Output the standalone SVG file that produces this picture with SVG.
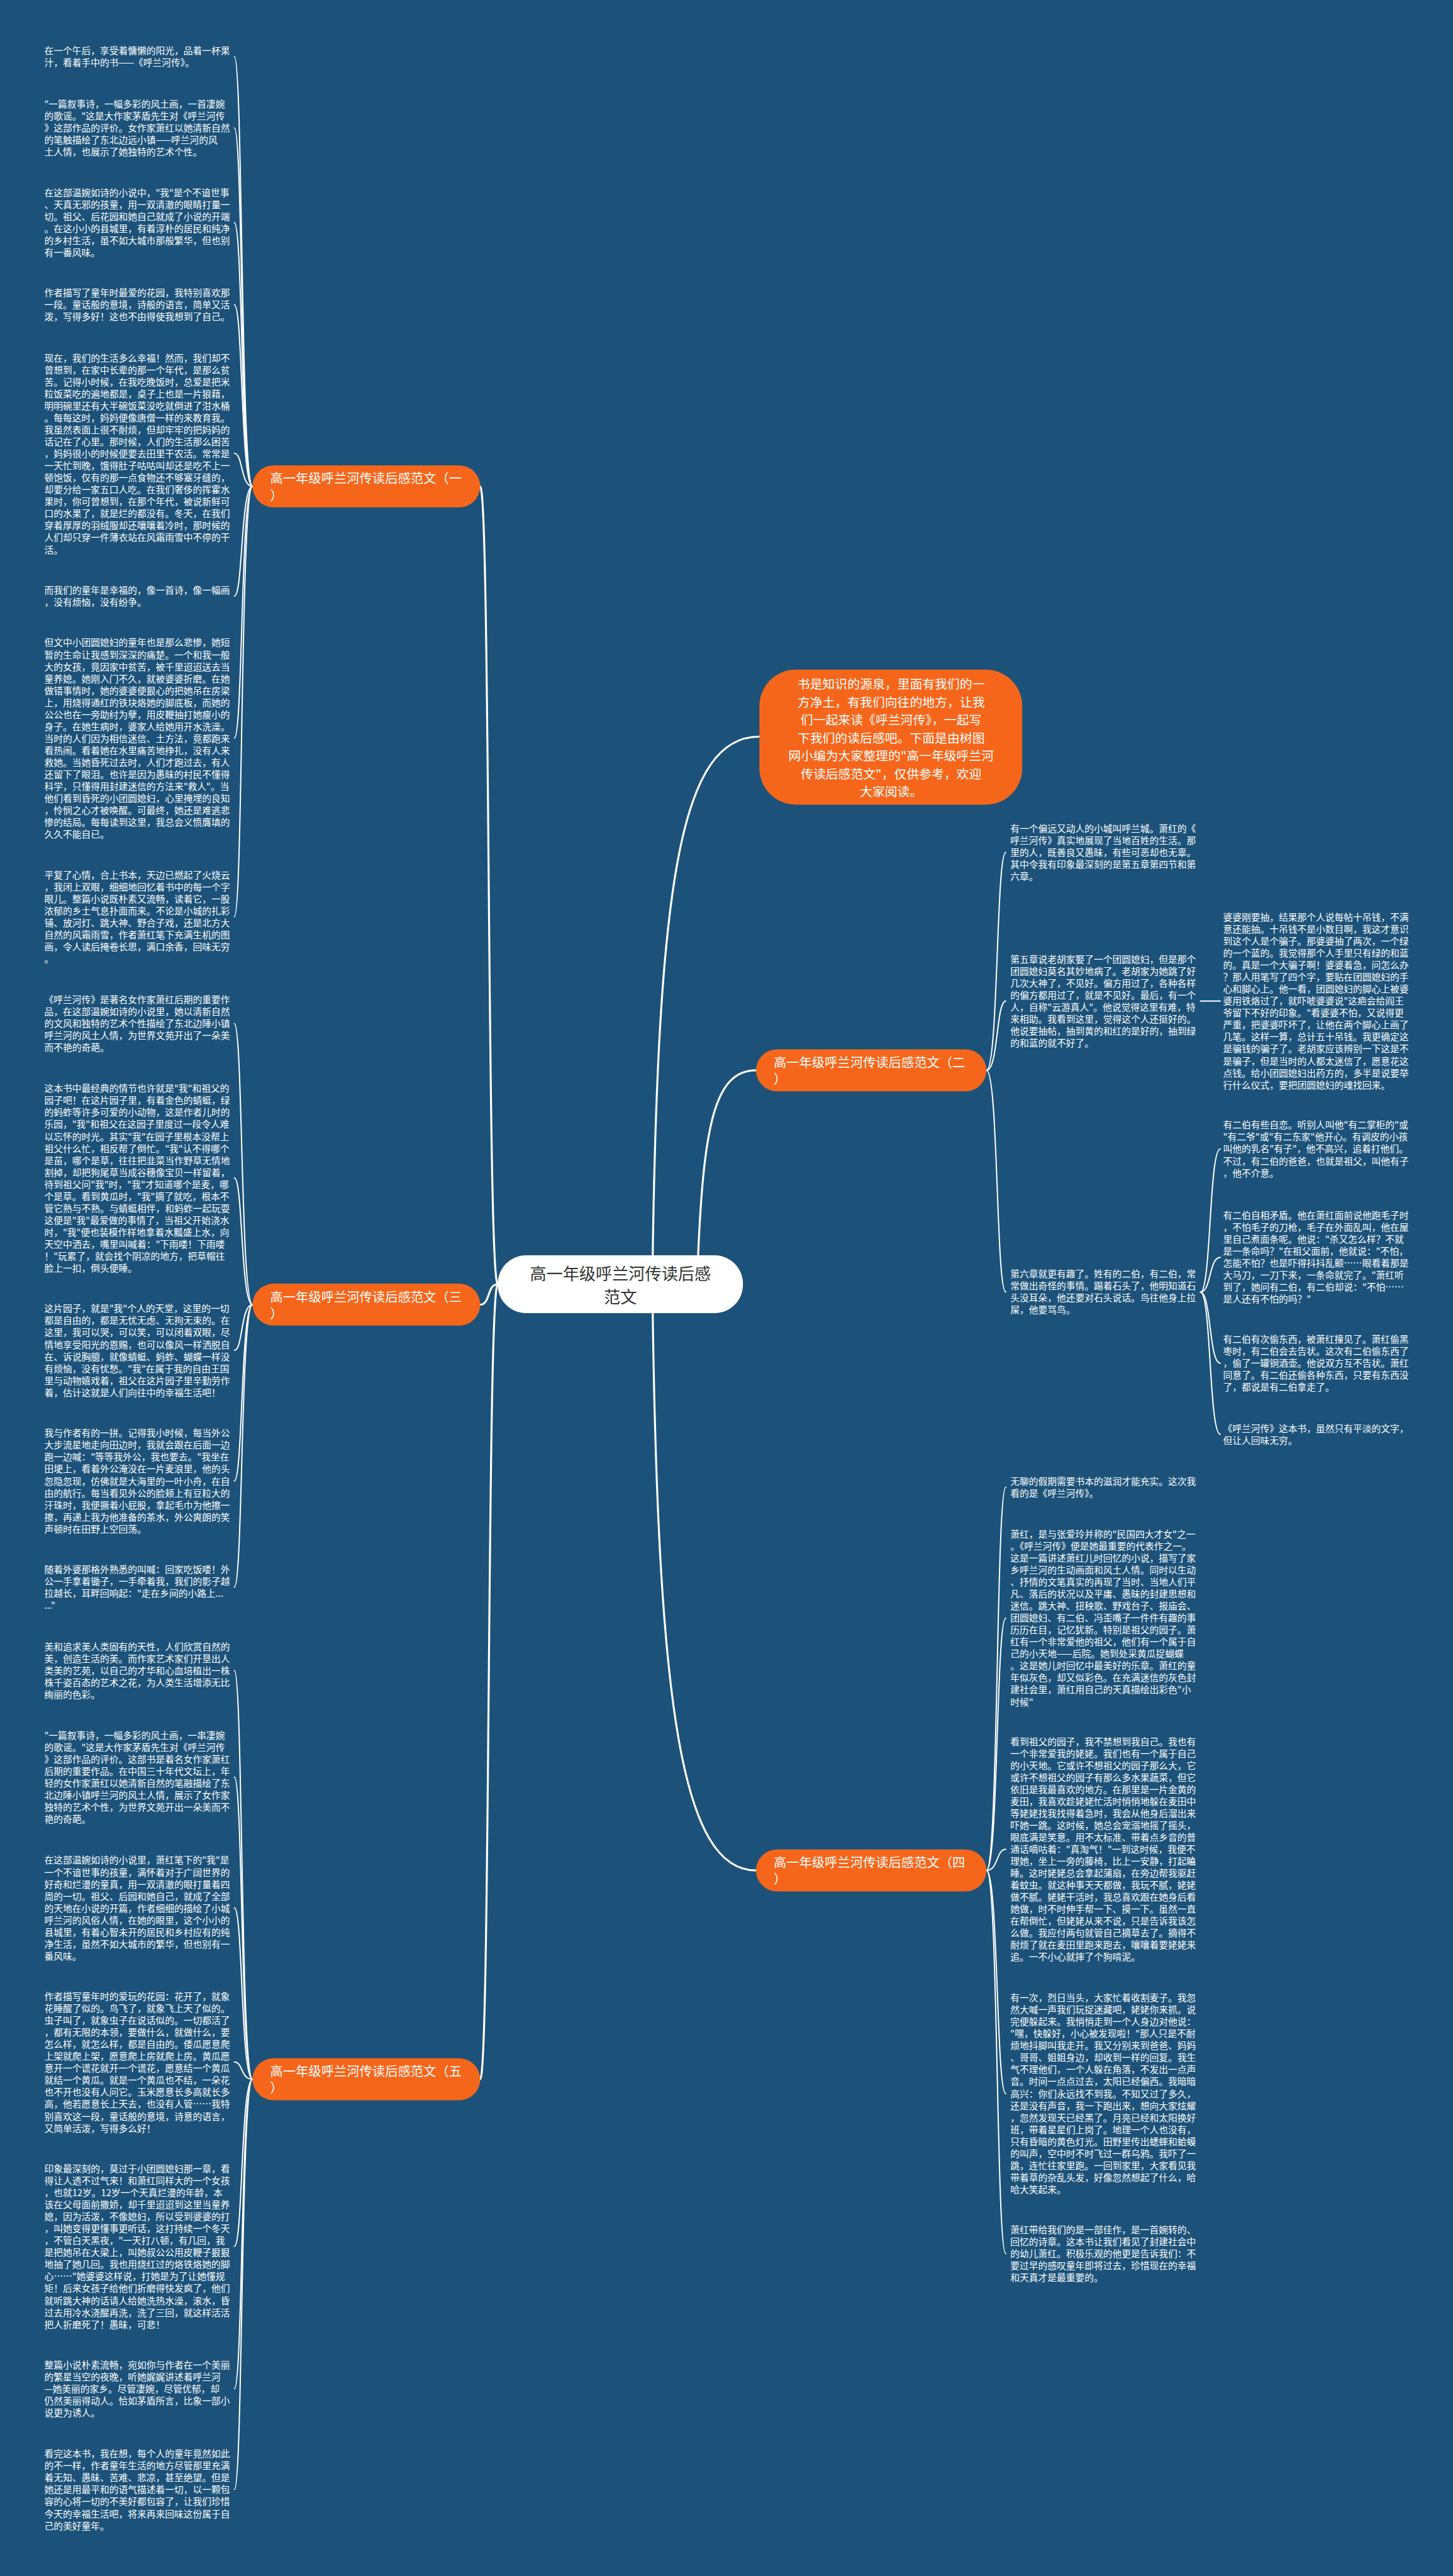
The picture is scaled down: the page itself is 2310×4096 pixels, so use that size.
<svg xmlns="http://www.w3.org/2000/svg" width="2310" height="4096" viewBox="0 0 2310 4096">
<style>
.t{font-family:"Noto Sans CJK SC","Noto Sans",sans-serif;font-size:16.35px;fill:#ffffff;}
.lab{font-family:"Noto Sans CJK SC","Noto Sans",sans-serif;font-size:22.5px;fill:#ffffff;}
.ctr{font-family:"Noto Sans CJK SC","Noto Sans",sans-serif;font-size:29px;fill:#333333;text-anchor:middle;}
.intro{font-family:"Noto Sans CJK SC","Noto Sans",sans-serif;font-size:22px;fill:#ffffff;text-anchor:middle;}
.sec{fill:#f5661b;}
.c{fill:none;stroke:#ffffff;stroke-width:2.2;stroke-linecap:round;}
.m{fill:none;stroke:#ffffff;stroke-width:3.5;stroke-linecap:round;}
</style>
<rect x="0" y="0" width="2310" height="4096" fill="#1c5279"/>
<g transform="scale(0.90234)">
<g id="connectors">
<path class="m" d="M877 2263 C858 2263 864 857 846 857"/>
<path class="m" d="M877 2263 C858 2263 864 2299 846 2299"/>
<path class="m" d="M877 2263 C858 2263 864 3664 846 3664"/>
<path class="m" d="M1150 2212 C1160 1550 1200 1298 1338 1298"/>
<path class="m" d="M1230 2212 C1240 1980 1260 1886 1332 1886"/>
<path class="m" d="M1150 2314 C1160 3000 1200 3296 1332 3296"/>
<path class="c" d="M445 857 C424 857 428 99.6 413 99.6"/>
<path class="c" d="M445 857 C424 857 428 225.6 413 225.6"/>
<path class="c" d="M445 857 C424 857 428 392.4 413 392.4"/>
<path class="c" d="M445 857 C424 857 428 537.2 413 537.2"/>
<path class="c" d="M445 857 C424 857 428 798.9 413 798.9"/>
<path class="c" d="M445 857 C424 857 428 1050.3 413 1050.3"/>
<path class="c" d="M445 857 C424 857 428 1300.5 413 1300.5"/>
<path class="c" d="M445 857 C424 857 428 1615.2 413 1615.2"/>
<path class="c" d="M445 2299 C424 2299 428 1803.8 413 1803.8"/>
<path class="c" d="M445 2299 C424 2299 428 2075.6 413 2075.6"/>
<path class="c" d="M445 2299 C424 2299 428 2379.5 413 2379.5"/>
<path class="c" d="M445 2299 C424 2299 428 2609.4 413 2609.4"/>
<path class="c" d="M445 2299 C424 2299 428 2796.8 413 2796.8"/>
<path class="c" d="M445 3664 C424 3664 428 2943.8 413 2943.8"/>
<path class="c" d="M445 3664 C424 3664 428 3131.6 413 3131.6"/>
<path class="c" d="M445 3664 C424 3664 428 3362 413 3362"/>
<path class="c" d="M445 3664 C424 3664 428 3633.6 413 3633.6"/>
<path class="c" d="M445 3664 C424 3664 428 3958.2 413 3958.2"/>
<path class="c" d="M445 3664 C424 3664 428 4209.2 413 4209.2"/>
<path class="c" d="M445 3664 C424 3664 428 4387 413 4387"/>
<path class="c" d="M1738 1886 C1759 1886 1755 1502.2 1772 1502.2"/>
<path class="c" d="M1738 1886 C1759 1886 1755 1763.9 1772 1763.9"/>
<path class="c" d="M1738 1886 C1759 1886 1755 2276.7 1772 2276.7"/>
<path class="c" d="M2115 1764 L2150 1764"/>
<path class="c" d="M2115 2277 C2134 2277 2130 2024.6 2150 2024.6"/>
<path class="c" d="M2115 2277 C2134 2277 2130 2215.6 2150 2215.6"/>
<path class="c" d="M2115 2277 C2134 2277 2130 2402.2 2150 2402.2"/>
<path class="c" d="M2115 2277 C2134 2277 2130 2527.3 2150 2527.3"/>
<path class="c" d="M1738 3296 C1759 3296 1755 2620.9 1772 2620.9"/>
<path class="c" d="M1738 3296 C1759 3296 1755 2851.1 1772 2851.1"/>
<path class="c" d="M1738 3296 C1759 3296 1755 3258.7 1772 3258.7"/>
<path class="c" d="M1738 3296 C1759 3296 1755 3689.2 1772 3689.2"/>
<path class="c" d="M1738 3296 C1759 3296 1755 3971.2 1772 3971.2"/>
</g>
<g id="center">
<rect x="877" y="2212" width="432" height="102" rx="50" fill="#ffffff"/>
<text class="ctr" x="1093" y="2255">高一年级呼兰河传读后感</text>
<text class="ctr" x="1093" y="2296">范文</text>
</g>
<g id="intro">
<rect x="1338" y="1180" width="463" height="238" rx="64" class="sec"/>
<text class="intro" x="1570" y="1214"><tspan x="1570">书是知识的源泉，里面有我们的一</tspan><tspan x="1570" dy="31.5">方净土，有我们向往的地方，让我</tspan><tspan x="1570" dy="31.5">们一起来读《呼兰河传》，一起写</tspan><tspan x="1570" dy="31.5">下我们的读后感吧。下面是由树图</tspan><tspan x="1570" dy="31.5">网小编为大家整理的"高一年级呼兰河</tspan><tspan x="1570" dy="31.5">传读后感范文"，仅供参考，欢迎</tspan><tspan x="1570" dy="31.5">大家阅读。</tspan></text>
</g>
<g id="sec1">
<rect x="445" y="820" width="401" height="74" rx="37" class="sec"/>
<text class="lab" x="476" y="851.5"><tspan x="476">高一年级呼兰河传读后感范文（一</tspan><tspan x="476" dy="29">）</tspan></text>
</g>
<g id="sec3">
<rect x="445" y="2262" width="401" height="74" rx="37" class="sec"/>
<text class="lab" x="476" y="2293.5"><tspan x="476">高一年级呼兰河传读后感范文（三</tspan><tspan x="476" dy="29">）</tspan></text>
</g>
<g id="sec5">
<rect x="445" y="3627" width="401" height="74" rx="37" class="sec"/>
<text class="lab" x="476" y="3658.5"><tspan x="476">高一年级呼兰河传读后感范文（五</tspan><tspan x="476" dy="29">）</tspan></text>
</g>
<g id="sec2">
<rect x="1332" y="1849" width="406" height="74" rx="37" class="sec"/>
<text class="lab" x="1363" y="1880.5"><tspan x="1363">高一年级呼兰河传读后感范文（二</tspan><tspan x="1363" dy="29">）</tspan></text>
</g>
<g id="sec4">
<rect x="1332" y="3259" width="406" height="74" rx="37" class="sec"/>
<text class="lab" x="1363" y="3290.5"><tspan x="1363">高一年级呼兰河传读后感范文（四</tspan><tspan x="1363" dy="29">）</tspan></text>
</g>
<g id="b1"><text class="t" x="78" y="95.3"><tspan x="78">在一个午后，享受着慵懒的阳光，品着一杯果</tspan><tspan x="78" dy="21.1">汁，看着手中的书——《呼兰河传》。</tspan></text></g>
<g id="b2"><text class="t" x="78" y="189.8"><tspan x="78">"一篇叙事诗，一幅多彩的风土画，一首凄婉</tspan><tspan x="78" dy="21.1">的歌谣。"这是大作家茅盾先生对《呼兰河传</tspan><tspan x="78" dy="21.1">》这部作品的评价。女作家萧红以她清新自然</tspan><tspan x="78" dy="21.1">的笔触描绘了东北边远小镇——呼兰河的风</tspan><tspan x="78" dy="21.1">土人情，也展示了她独特的艺术个性。</tspan></text></g>
<g id="b3"><text class="t" x="78" y="346.1"><tspan x="78">在这部温婉如诗的小说中，"我"是个不谙世事</tspan><tspan x="78" dy="21.1">、天真无邪的孩童，用一双清澈的眼睛打量一</tspan><tspan x="78" dy="21.1">切。祖父、后花园和她自己就成了小说的开端</tspan><tspan x="78" dy="21.1">。在这小小的县城里，有着淳朴的居民和纯净</tspan><tspan x="78" dy="21.1">的乡村生活，虽不如大城市那般繁华，但也别</tspan><tspan x="78" dy="21.1">有一番风味。</tspan></text></g>
<g id="b4"><text class="t" x="78" y="522.4"><tspan x="78">作者描写了童年时最爱的花园，我特别喜欢那</tspan><tspan x="78" dy="21.1">一段。童话般的意境，诗般的语言，简单又活</tspan><tspan x="78" dy="21.1">泼，写得多好！这也不由得使我想到了自己。</tspan></text></g>
<g id="b5"><text class="t" x="78" y="637.1"><tspan x="78">现在，我们的生活多么幸福！然而，我们却不</tspan><tspan x="78" dy="21.1">曾想到，在家中长辈的那一个年代，是那么贫</tspan><tspan x="78" dy="21.1">苦。记得小时候，在我吃晚饭时，总爱是把米</tspan><tspan x="78" dy="21.1">粒饭菜吃的遍地都是，桌子上也是一片狼藉，</tspan><tspan x="78" dy="21.1">明明碗里还有大半碗饭菜没吃就倒进了泔水桶</tspan><tspan x="78" dy="21.1">。每每这时，妈妈便像唐僧一样的来教育我。</tspan><tspan x="78" dy="21.1">我虽然表面上很不耐烦，但却牢牢的把妈妈的</tspan><tspan x="78" dy="21.1">话记在了心里。那时候，人们的生活那么困苦</tspan><tspan x="78" dy="21.1">，妈妈很小的时候便要去田里干农活。常常是</tspan><tspan x="78" dy="21.1">一天忙到晚，饿得肚子咕咕叫却还是吃不上一</tspan><tspan x="78" dy="21.1">顿饱饭，仅有的那一点食物还不够塞牙缝的，</tspan><tspan x="78" dy="21.1">却要分给一家五口人吃。在我们奢侈的挥霍水</tspan><tspan x="78" dy="21.1">果时，你可曾想到，在那个年代，被说新鲜可</tspan><tspan x="78" dy="21.1">口的水果了，就是烂的都没有。冬天，在我们</tspan><tspan x="78" dy="21.1">穿着厚厚的羽绒服却还嚷嚷着冷时，那时候的</tspan><tspan x="78" dy="21.1">人们却只穿一件薄衣站在风霜雨雪中不停的干</tspan><tspan x="78" dy="21.1">活。</tspan></text></g>
<g id="b6"><text class="t" x="78" y="1046"><tspan x="78">而我们的童年是幸福的，像一首诗，像一幅画</tspan><tspan x="78" dy="21.1">，没有烦恼，没有纷争。</tspan></text></g>
<g id="b7"><text class="t" x="78" y="1138.7"><tspan x="78">但文中小团圆媳妇的童年也是那么悲惨，她短</tspan><tspan x="78" dy="21.1">暂的生命让我感到深深的痛楚。一个和我一般</tspan><tspan x="78" dy="21.1">大的女孩，竟因家中贫苦，被千里迢迢送去当</tspan><tspan x="78" dy="21.1">童养媳。她刚入门不久，就被婆婆折磨。在她</tspan><tspan x="78" dy="21.1">做错事情时，她的婆婆便狠心的把她吊在房梁</tspan><tspan x="78" dy="21.1">上，用烧得通红的铁块烙她的脚底板，而她的</tspan><tspan x="78" dy="21.1">公公也在一旁助纣为孽，用皮鞭抽打她瘦小的</tspan><tspan x="78" dy="21.1">身子。在她生病时，婆家人给她用开水洗澡。</tspan><tspan x="78" dy="21.1">当时的人们因为相信迷信、土方法，竟都跑来</tspan><tspan x="78" dy="21.1">看热闹。看着她在水里痛苦地挣扎，没有人来</tspan><tspan x="78" dy="21.1">救她。当她昏死过去时，人们才跑过去，有人</tspan><tspan x="78" dy="21.1">还留下了眼泪。也许是因为愚昧的村民不懂得</tspan><tspan x="78" dy="21.1">科学，只懂得用封建迷信的方法来"救人"。当</tspan><tspan x="78" dy="21.1">他们看到昏死的小团圆媳妇，心里掩埋的良知</tspan><tspan x="78" dy="21.1">，怜悯之心才被唤醒。可最终，她还是难逃悲</tspan><tspan x="78" dy="21.1">惨的结局。每每读到这里，我总会义愤膺填的</tspan><tspan x="78" dy="21.1">久久不能自已。</tspan></text></g>
<g id="b8"><text class="t" x="78" y="1547.9"><tspan x="78">平复了心情，合上书本，天边已燃起了火烧云</tspan><tspan x="78" dy="21.1">，我闭上双眼，细细地回忆着书中的每一个字</tspan><tspan x="78" dy="21.1">眼儿。整篇小说既朴素又流畅，读着它，一股</tspan><tspan x="78" dy="21.1">浓郁的乡土气息扑面而来。不论是小城的扎彩</tspan><tspan x="78" dy="21.1">铺、放河灯、跳大神、野合子戏，还是北方大</tspan><tspan x="78" dy="21.1">自然的风霜雨雪，作者萧红笔下充满生机的图</tspan><tspan x="78" dy="21.1">画，令人读后掩卷长思，满口余香，回味无穷</tspan><tspan x="78" dy="21.1">。</tspan></text></g>
<g id="b9"><text class="t" x="78" y="1768"><tspan x="78">《呼兰河传》是著名女作家萧红后期的重要作</tspan><tspan x="78" dy="21.1">品，在这部温婉如诗的小说里，她以清新自然</tspan><tspan x="78" dy="21.1">的文风和独特的艺术个性描绘了东北边陲小镇</tspan><tspan x="78" dy="21.1">呼兰河的风土人情，为世界文苑开出了一朵美</tspan><tspan x="78" dy="21.1">而不艳的奇葩。</tspan></text></g>
<g id="b10"><text class="t" x="78" y="1924.3"><tspan x="78">这本书中最经典的情节也许就是"我"和祖父的</tspan><tspan x="78" dy="21.1">园子吧！在这片园子里，有着金色的蜻蜓，绿</tspan><tspan x="78" dy="21.1">的蚂蚱等许多可爱的小动物，这是作者儿时的</tspan><tspan x="78" dy="21.1">乐园，"我"和祖父在这园子里度过一段令人难</tspan><tspan x="78" dy="21.1">以忘怀的时光。其实"我"在园子里根本没帮上</tspan><tspan x="78" dy="21.1">祖父什么忙，相反帮了倒忙。"我"认不得哪个</tspan><tspan x="78" dy="21.1">是苗，哪个是草，往往把韭菜当作野草无情地</tspan><tspan x="78" dy="21.1">割掉，却把狗尾草当成谷穗像宝贝一样留着，</tspan><tspan x="78" dy="21.1">待到祖父问"我"时，"我"才知道哪个是麦，哪</tspan><tspan x="78" dy="21.1">个是草。看到黄瓜时，"我"摘了就吃，根本不</tspan><tspan x="78" dy="21.1">管它熟与不熟。与蜻蜓相伴，和蚂蚱一起玩耍</tspan><tspan x="78" dy="21.1">这便是"我"最爱做的事情了，当祖父开始浇水</tspan><tspan x="78" dy="21.1">时，"我"便也装模作样地拿着水瓢盛上水，向</tspan><tspan x="78" dy="21.1">天空中洒去，嘴里叫喊着："下雨喽！下雨喽</tspan><tspan x="78" dy="21.1">！"玩累了，就会找个阴凉的地方，把草帽往</tspan><tspan x="78" dy="21.1">脸上一扣，倒头便睡。</tspan></text></g>
<g id="b11"><text class="t" x="78" y="2312.2"><tspan x="78">这片园子，就是"我"个人的天堂，这里的一切</tspan><tspan x="78" dy="21.1">都是自由的，都是无忧无虑、无拘无束的。在</tspan><tspan x="78" dy="21.1">这里，我可以哭，可以笑，可以闭着双眼，尽</tspan><tspan x="78" dy="21.1">情地享受阳光的恩赐，也可以像风一样洒脱自</tspan><tspan x="78" dy="21.1">在、诉说胸臆，就像蜻蜓、蚂蚱、蝴蝶一样没</tspan><tspan x="78" dy="21.1">有烦恼，没有忧愁。"我"在属于我的自由王国</tspan><tspan x="78" dy="21.1">里与动物嬉戏着，祖父在这片园子里辛勤劳作</tspan><tspan x="78" dy="21.1">着，估计这就是人们向往中的幸福生活吧！</tspan></text></g>
<g id="b12"><text class="t" x="78" y="2531.6"><tspan x="78">我与作者有的一拼。记得我小时候，每当外公</tspan><tspan x="78" dy="21.1">大步流星地走向田边时，我就会跟在后面一边</tspan><tspan x="78" dy="21.1">跑一边喊："等等我外公，我也要去。"我坐在</tspan><tspan x="78" dy="21.1">田埂上，看着外公淹没在一片麦浪里，他的头</tspan><tspan x="78" dy="21.1">忽隐忽现，仿佛就是大海里的一叶小舟，在自</tspan><tspan x="78" dy="21.1">由的航行。每当看见外公的脸颊上有豆粒大的</tspan><tspan x="78" dy="21.1">汗珠时，我便撅着小屁股，拿起毛巾为他擦一</tspan><tspan x="78" dy="21.1">擦，再递上我为他准备的茶水，外公爽朗的笑</tspan><tspan x="78" dy="21.1">声顿时在田野上空回荡。</tspan></text></g>
<g id="b13"><text class="t" x="78" y="2771.5"><tspan x="78">随着外婆那格外熟悉的叫喊：回家吃饭喽！外</tspan><tspan x="78" dy="21.1">公一手拿着锄子，一手牵着我，我们的影子越</tspan><tspan x="78" dy="21.1">拉越长，耳畔回响起："走在乡间的小路上...</tspan><tspan x="78" dy="21.1">..."</tspan></text></g>
<g id="b14"><text class="t" x="78" y="2908"><tspan x="78">美和追求美人类固有的天性，人们欣赏自然的</tspan><tspan x="78" dy="21.1">美，创造生活的美。而作家艺术家们开垦出人</tspan><tspan x="78" dy="21.1">类美的艺苑，以自己的才华和心血培植出一株</tspan><tspan x="78" dy="21.1">株千姿百态的艺术之花，为人类生活增添无比</tspan><tspan x="78" dy="21.1">绚丽的色彩。</tspan></text></g>
<g id="b15"><text class="t" x="78" y="3064.3"><tspan x="78">"一篇叙事诗，一幅多彩的风土画，一串凄婉</tspan><tspan x="78" dy="21.1">的歌谣。"这是大作家茅盾先生对《呼兰河传</tspan><tspan x="78" dy="21.1">》这部作品的评价。这部书是着名女作家萧红</tspan><tspan x="78" dy="21.1">后期的重要作品。在中国三十年代文坛上，年</tspan><tspan x="78" dy="21.1">轻的女作家萧红以她清新自然的笔融描绘了东</tspan><tspan x="78" dy="21.1">北边陲小镇呼兰河的风土人情，展示了女作家</tspan><tspan x="78" dy="21.1">独特的艺术个性，为世界文苑开出一朵美而不</tspan><tspan x="78" dy="21.1">艳的奇葩。</tspan></text></g>
<g id="b16"><text class="t" x="78" y="3284.2"><tspan x="78">在这部温婉如诗的小说里，萧红笔下的"我"是</tspan><tspan x="78" dy="21.1">一个不谙世事的孩童，满怀着对于广阔世界的</tspan><tspan x="78" dy="21.1">好奇和烂漫的童真，用一双清澈的眼打量着四</tspan><tspan x="78" dy="21.1">周的一切。祖父、后园和她自己，就成了全部</tspan><tspan x="78" dy="21.1">的天地在小说的开篇，作者细细的描绘了小城</tspan><tspan x="78" dy="21.1">呼兰河的风俗人情，在她的眼里，这个小小的</tspan><tspan x="78" dy="21.1">县城里，有着心智未开的居民和乡村应有的纯</tspan><tspan x="78" dy="21.1">净生活，虽然不如大城市的繁华，但也别有一</tspan><tspan x="78" dy="21.1">番风味。</tspan></text></g>
<g id="b17"><text class="t" x="78" y="3524.3"><tspan x="78">作者描写童年时的爱玩的花园：花开了，就象</tspan><tspan x="78" dy="21.1">花睡醒了似的。鸟飞了，就象飞上天了似的。</tspan><tspan x="78" dy="21.1">虫子叫了，就象虫子在说话似的。一切都活了</tspan><tspan x="78" dy="21.1">，都有无限的本领，要做什么，就做什么，要</tspan><tspan x="78" dy="21.1">怎么样，就怎么样，都是自由的。倭瓜愿意爬</tspan><tspan x="78" dy="21.1">上架就爬上架，愿意爬上房就爬上房。黄瓜愿</tspan><tspan x="78" dy="21.1">意开一个谎花就开一个谎花，愿意结一个黄瓜</tspan><tspan x="78" dy="21.1">就结一个黄瓜。就是一个黄瓜也不结，一朵花</tspan><tspan x="78" dy="21.1">也不开也没有人问它。玉米愿意长多高就长多</tspan><tspan x="78" dy="21.1">高，他若愿意长上天去，也没有人管……我特</tspan><tspan x="78" dy="21.1">别喜欢这一段，童话般的意境，诗意的语言，</tspan><tspan x="78" dy="21.1">又简单活泼，写得多么好！</tspan></text></g>
<g id="b18"><text class="t" x="78" y="3827.9"><tspan x="78">印象最深刻的，莫过于小团圆媳妇那一章，看</tspan><tspan x="78" dy="21.1">得让人透不过气来！和萧红同样大的一个女孩</tspan><tspan x="78" dy="21.1">，也就12岁。12岁一个天真烂漫的年龄，本</tspan><tspan x="78" dy="21.1">该在父母面前撒娇，却千里迢迢到这里当童养</tspan><tspan x="78" dy="21.1">媳，因为活泼，不像媳妇，所以受到婆婆的打</tspan><tspan x="78" dy="21.1">，叫她变得更懂事更听话，这打持续一个冬天</tspan><tspan x="78" dy="21.1">，不管白天黑夜，"一天打八顿，有几回，我</tspan><tspan x="78" dy="21.1">是把她吊在大梁上，叫她叔公公用皮鞭子狠狠</tspan><tspan x="78" dy="21.1">地抽了她几回。我也用烧红过的烙铁烙她的脚</tspan><tspan x="78" dy="21.1">心……"她婆婆这样说，打她是为了让她懂规</tspan><tspan x="78" dy="21.1">矩！后来女孩子给他们折磨得快发疯了，他们</tspan><tspan x="78" dy="21.1">就听跳大神的话请人给她洗热水澡，滚水，昏</tspan><tspan x="78" dy="21.1">过去用冷水浇醒再洗，洗了三回，就这样活活</tspan><tspan x="78" dy="21.1">把人折磨死了！愚昧，可悲！</tspan></text></g>
<g id="b19"><text class="t" x="78" y="4173.4"><tspan x="78">整篇小说朴素流畅，宛如你与作者在一个美丽</tspan><tspan x="78" dy="21.1">的繁星当空的夜晚，听她娓娓讲述着呼兰河</tspan><tspan x="78" dy="21.1">—她美丽的家乡。尽管凄婉，尽管优郁，却</tspan><tspan x="78" dy="21.1">仍然美丽得动人。恰如茅盾所言，比象一部小</tspan><tspan x="78" dy="21.1">说更为诱人。</tspan></text></g>
<g id="b20"><text class="t" x="78" y="4330.2"><tspan x="78">看完这本书，我在想，每个人的童年竟然如此</tspan><tspan x="78" dy="21.1">的不一样，作者童年生活的地方尽管那里充满</tspan><tspan x="78" dy="21.1">着无知、愚昧、苦难、悲凉，甚至绝望。但是</tspan><tspan x="78" dy="21.1">她还是用最平和的语气描述着一切，以一颗包</tspan><tspan x="78" dy="21.1">容的心将一切的不美好都包容了，让我们珍惜</tspan><tspan x="78" dy="21.1">今天的幸福生活吧，将来再来回味这份属于自</tspan><tspan x="78" dy="21.1">己的美好童年。</tspan></text></g>
<g id="c1"><text class="t" x="1780" y="1466.2"><tspan x="1780">有一个偏远又动人的小城叫呼兰城。萧红的《</tspan><tspan x="1780" dy="21.1">呼兰河传》真实地展现了当地百姓的生活。那</tspan><tspan x="1780" dy="21.1">里的人，既善良又愚昧，有些可恶却也无辜。</tspan><tspan x="1780" dy="21.1">其中令我有印象最深刻的是第五章第四节和第</tspan><tspan x="1780" dy="21.1">六章。</tspan></text></g>
<g id="c2"><text class="t" x="1780" y="1696.2"><tspan x="1780">第五章说老胡家娶了一个团圆媳妇，但是那个</tspan><tspan x="1780" dy="21.1">团圆媳妇莫名其妙地病了。老胡家为她跳了好</tspan><tspan x="1780" dy="21.1">几次大神了，不见好。偏方用过了，各种各样</tspan><tspan x="1780" dy="21.1">的偏方都用过了，就是不见好。最后，有一个</tspan><tspan x="1780" dy="21.1">人，自称"云游真人"。他说觉得这里有难，特</tspan><tspan x="1780" dy="21.1">来相助。我看到这里，觉得这个人还挺好的。</tspan><tspan x="1780" dy="21.1">他说要抽帖，抽到黄的和红的是好的，抽到绿</tspan><tspan x="1780" dy="21.1">的和蓝的就不好了。</tspan></text></g>
<g id="c3"><text class="t" x="1780" y="2251.2"><tspan x="1780">第六章就更有趣了。姓有的二伯，有二伯，常</tspan><tspan x="1780" dy="21.1">常做出奇怪的事情。踢着石头了，他明知道石</tspan><tspan x="1780" dy="21.1">头没耳朵，他还要对石头说话。鸟往他身上拉</tspan><tspan x="1780" dy="21.1">屎，他要骂鸟。</tspan></text></g>
<g id="d1"><text class="t" x="2155" y="1622.5"><tspan x="2155">婆婆刚要抽，结果那个人说每帖十吊钱，不满</tspan><tspan x="2155" dy="21.1">意还能抽。十吊钱不是小数目啊，我这才意识</tspan><tspan x="2155" dy="21.1">到这个人是个骗子。那婆婆抽了两次，一个绿</tspan><tspan x="2155" dy="21.1">的一个蓝的。我觉得那个人手里只有绿的和蓝</tspan><tspan x="2155" dy="21.1">的。真是一个大骗子啊！婆婆着急，问怎么办</tspan><tspan x="2155" dy="21.1">？那人用笔写了四个字，要贴在团圆媳妇的手</tspan><tspan x="2155" dy="21.1">心和脚心上。他一看，团圆媳妇的脚心上被婆</tspan><tspan x="2155" dy="21.1">婆用铁烙过了，就吓唬婆婆说"这疤会给阎王</tspan><tspan x="2155" dy="21.1">爷留下不好的印象。"看婆婆不怕，又说得更</tspan><tspan x="2155" dy="21.1">严重，把婆婆吓坏了，让他在两个脚心上画了</tspan><tspan x="2155" dy="21.1">几笔。这样一算，总计五十吊钱。我更确定这</tspan><tspan x="2155" dy="21.1">是骗钱的骗子了。老胡家应该辨别一下这是不</tspan><tspan x="2155" dy="21.1">是骗子，但是当时的人都太迷信了，愿意花这</tspan><tspan x="2155" dy="21.1">点钱。给小团圆媳妇出药方的，多半是说要举</tspan><tspan x="2155" dy="21.1">行什么仪式，要把团圆媳妇的魂找回来。</tspan></text></g>
<g id="d2"><text class="t" x="2155" y="1988.6"><tspan x="2155">有二伯有些自恋。听别人叫他"有二掌柜的"或</tspan><tspan x="2155" dy="21.1">"有二爷"或"有二东家"他开心。有调皮的小孩</tspan><tspan x="2155" dy="21.1">叫他的乳名"有子"，他不高兴，追着打他们。</tspan><tspan x="2155" dy="21.1">不过，有二伯的爸爸，也就是祖父，叫他有子</tspan><tspan x="2155" dy="21.1">，他不介意。</tspan></text></g>
<g id="d3"><text class="t" x="2155" y="2147.9"><tspan x="2155">有二伯自相矛盾。他在萧红面前说他跑毛子时</tspan><tspan x="2155" dy="21.1">，不怕毛子的刀枪，毛子在外面乱叫，他在屋</tspan><tspan x="2155" dy="21.1">里自己煮面条呢。他说："杀又怎么样？不就</tspan><tspan x="2155" dy="21.1">是一条命吗？"在祖父面前，他就说："不怕，</tspan><tspan x="2155" dy="21.1">怎能不怕？也是吓得抖抖乱颤……眼看着那是</tspan><tspan x="2155" dy="21.1">大马刀，一刀下来，一条命就完了。"萧红听</tspan><tspan x="2155" dy="21.1">到了，她问有二伯，有二伯却说："不怕……</tspan><tspan x="2155" dy="21.1">是人还有不怕的吗？"</tspan></text></g>
<g id="d4"><text class="t" x="2155" y="2366.2"><tspan x="2155">有二伯有次偷东西，被萧红撞见了。萧红偷黑</tspan><tspan x="2155" dy="21.1">枣时，有二伯会去告状。这次有二伯偷东西了</tspan><tspan x="2155" dy="21.1">，偷了一罐铜酒壶。他说双方互不告状。萧红</tspan><tspan x="2155" dy="21.1">同意了。有二伯还偷各种东西，只要有东西没</tspan><tspan x="2155" dy="21.1">了，都说是有二伯拿走了。</tspan></text></g>
<g id="d5"><text class="t" x="2155" y="2522.9"><tspan x="2155">《呼兰河传》这本书，虽然只有平淡的文字，</tspan><tspan x="2155" dy="21.1">但让人回味无穷。</tspan></text></g>
<g id="e1"><text class="t" x="1780" y="2616.5"><tspan x="1780">无聊的假期需要书本的滋润才能充实。这次我</tspan><tspan x="1780" dy="21.1">看的是《呼兰河传》。</tspan></text></g>
<g id="e2"><text class="t" x="1780" y="2709.6"><tspan x="1780">萧红，是与张爱玲并称的"民国四大才女"之一</tspan><tspan x="1780" dy="21.1">。《呼兰河传》便是她最重要的代表作之一。</tspan><tspan x="1780" dy="21.1">这是一篇讲述萧红儿时回忆的小说，描写了家</tspan><tspan x="1780" dy="21.1">乡呼兰河的生动画面和风土人情。同时以生动</tspan><tspan x="1780" dy="21.1">、抒情的文笔真实的再现了当时、当地人们平</tspan><tspan x="1780" dy="21.1">凡、落后的状况以及平庸、愚昧的封建思想和</tspan><tspan x="1780" dy="21.1">迷信。跳大神、扭秧歌、野戏台子、报庙会、</tspan><tspan x="1780" dy="21.1">团圆媳妇、有二伯、冯歪嘴子一件件有趣的事</tspan><tspan x="1780" dy="21.1">历历在目，记忆犹新。特别是祖父的园子。萧</tspan><tspan x="1780" dy="21.1">红有一个非常爱他的祖父，他们有一个属于自</tspan><tspan x="1780" dy="21.1">己的小天地——后院。她到处采黄瓜捉蝴蝶</tspan><tspan x="1780" dy="21.1">。这是她儿时回忆中最美好的乐章。萧红的童</tspan><tspan x="1780" dy="21.1">年似灰色，却又似彩色。在充满迷信的灰色封</tspan><tspan x="1780" dy="21.1">建社会里，萧红用自己的天真描绘出彩色"小</tspan><tspan x="1780" dy="21.1">时候"</tspan></text></g>
<g id="e3"><text class="t" x="1780" y="3075"><tspan x="1780">看到祖父的园子，我不禁想到我自己。我也有</tspan><tspan x="1780" dy="21.1">一个非常爱我的姥姥。我们也有一个属于自己</tspan><tspan x="1780" dy="21.1">的小天地。它或许不想祖父的园子那么大，它</tspan><tspan x="1780" dy="21.1">或许不想祖父的园子有那么多水果蔬菜，但它</tspan><tspan x="1780" dy="21.1">依旧是我最喜欢的地方。在那里是一片金黄的</tspan><tspan x="1780" dy="21.1">麦田，我喜欢趁姥姥忙活时悄悄地躲在麦田中</tspan><tspan x="1780" dy="21.1">等姥姥找我找得着急时，我会从他身后溜出来</tspan><tspan x="1780" dy="21.1">吓她一跳。这时候，她总会宠溺地摇了摇头，</tspan><tspan x="1780" dy="21.1">眼底满是笑意。用不太标准、带着点乡音的普</tspan><tspan x="1780" dy="21.1">通话嘀咕着："真淘气！"一到这时候，我便不</tspan><tspan x="1780" dy="21.1">理她，坐上一旁的藤椅，比上一安静，打起瞌</tspan><tspan x="1780" dy="21.1">睡。这时姥姥总会拿起蒲扇，在旁边帮我驱赶</tspan><tspan x="1780" dy="21.1">着蚊虫。就这种事天天都做，我玩不腻，姥姥</tspan><tspan x="1780" dy="21.1">做不腻。姥姥干活时，我总喜欢跟在她身后看</tspan><tspan x="1780" dy="21.1">她做，时不时伸手帮一下、摸一下。虽然一直</tspan><tspan x="1780" dy="21.1">在帮倒忙，但姥姥从来不说，只是告诉我该怎</tspan><tspan x="1780" dy="21.1">么做。我应付两句就管自己摘草去了。摘得不</tspan><tspan x="1780" dy="21.1">耐烦了就在麦田里跑来跑去，嚷嚷着要姥姥来</tspan><tspan x="1780" dy="21.1">追。一不小心就摔了个狗啃泥。</tspan></text></g>
<g id="e4"><text class="t" x="1780" y="3526.6"><tspan x="1780">有一次，烈日当头，大家忙着收割麦子。我忽</tspan><tspan x="1780" dy="21.1">然大喊一声我们玩捉迷藏吧，姥姥你来抓。说</tspan><tspan x="1780" dy="21.1">完便躲起来。我悄悄走到一个人身边对他说：</tspan><tspan x="1780" dy="21.1">"嘿，快躲好，小心被发现啦！"那人只是不耐</tspan><tspan x="1780" dy="21.1">烦地抖脚叫我走开。我又分别来到爸爸、妈妈</tspan><tspan x="1780" dy="21.1">、哥哥、姐姐身边，却收到一样的回复。我生</tspan><tspan x="1780" dy="21.1">气不理他们，一个人躲在角落，不发出一点声</tspan><tspan x="1780" dy="21.1">音。时间一点点过去，太阳已经偏西。我暗暗</tspan><tspan x="1780" dy="21.1">高兴：你们永远找不到我。不知又过了多久，</tspan><tspan x="1780" dy="21.1">还是没有声音，我一下跑出来，想向大家炫耀</tspan><tspan x="1780" dy="21.1">，忽然发现天已经黑了。月亮已经和太阳换好</tspan><tspan x="1780" dy="21.1">班，带着星星们上岗了。地理一个人也没有，</tspan><tspan x="1780" dy="21.1">只有昏暗的黄色灯光。田野里传出蟋蟀和蛤蟆</tspan><tspan x="1780" dy="21.1">的叫声，空中时不时飞过一群乌鸦。我吓了一</tspan><tspan x="1780" dy="21.1">跳，连忙往家里跑。一回到家里，大家看见我</tspan><tspan x="1780" dy="21.1">带着草的杂乱头发，好像忽然想起了什么，哈</tspan><tspan x="1780" dy="21.1">哈大笑起来。</tspan></text></g>
<g id="e5"><text class="t" x="1780" y="3935.2"><tspan x="1780">萧红带给我们的是一部佳作，是一首婉转的、</tspan><tspan x="1780" dy="21.1">回忆的诗章。这本书让我们看见了封建社会中</tspan><tspan x="1780" dy="21.1">的幼儿萧红。积极乐观的他更是告诉我们：不</tspan><tspan x="1780" dy="21.1">要过早的感叹童年即将过去，珍惜现在的幸福</tspan><tspan x="1780" dy="21.1">和天真才是最重要的。</tspan></text></g>
</g>
</svg>
